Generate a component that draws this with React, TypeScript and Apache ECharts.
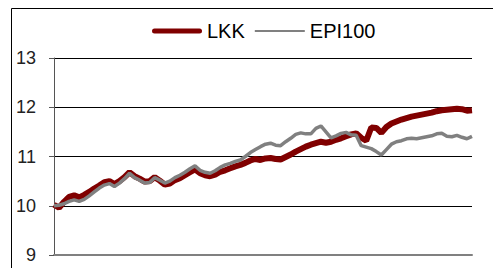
import React, { useEffect, useRef } from "react";
import * as echarts from "echarts";

const lkk: number[] = [
  10.02, 9.96, 10.08, 10.18, 10.21, 10.17, 10.22, 10.28, 10.35, 10.41,
  10.48, 10.5, 10.44, 10.5, 10.58, 10.68, 10.6, 10.55, 10.49, 10.5,
  10.58, 10.51, 10.43, 10.45, 10.52, 10.56, 10.62, 10.68, 10.74, 10.66,
  10.62, 10.6, 10.63, 10.69, 10.72, 10.76, 10.8, 10.83, 10.87, 10.92,
  10.95, 10.93, 10.96, 10.97, 10.95, 10.94, 10.99, 11.04, 11.1, 11.15,
  11.2, 11.24, 11.27, 11.3, 11.28, 11.3, 11.34, 11.37, 11.41, 11.45,
  11.47, 11.38, 11.32, 11.59, 11.58, 11.48, 11.6, 11.67, 11.71, 11.75,
  11.78, 11.81, 11.83, 11.85, 11.87, 11.89, 11.92, 11.94, 11.95, 11.96,
  11.97, 11.96, 11.93, 11.94,
];

const epi100: number[] = [
  10.0, 10.01, 10.04, 10.09, 10.12, 10.09, 10.13, 10.2, 10.28, 10.36,
  10.42, 10.45, 10.39, 10.46, 10.55, 10.66, 10.57, 10.52, 10.46, 10.47,
  10.57, 10.52, 10.46, 10.5, 10.57, 10.62, 10.68, 10.75, 10.81, 10.72,
  10.68, 10.66, 10.71, 10.78, 10.83, 10.86, 10.9, 10.93, 11.0, 11.08,
  11.14, 11.2, 11.25, 11.27, 11.23, 11.22, 11.3, 11.37, 11.45, 11.48,
  11.46, 11.46, 11.57, 11.62, 11.5, 11.38, 11.42, 11.47, 11.49, 11.44,
  11.43, 11.22, 11.19, 11.16, 11.1, 11.03, 11.14, 11.25, 11.3, 11.32,
  11.36, 11.37, 11.36, 11.38, 11.4, 11.42, 11.46, 11.47, 11.41, 11.4,
  11.43, 11.39, 11.36, 11.41,
];

const categories: string[] = lkk.map((_, i) => String(i + 1));
const seriesNames: string[] = ["LKK", "EPI100"];
const yTicks = { min: 9, max: 13, interval: 1 };

export default function App() {
  const ref = useRef<HTMLDivElement>(null);
  useEffect(() => {
    if (!ref.current) return;
    const chart = echarts.init(ref.current, undefined, { renderer: "svg" });
    chart.setOption({
      animation: false,
      backgroundColor: "#ffffff",
      textStyle: { fontFamily: "Liberation Sans, Arial, sans-serif" },
      graphic: [
        {
          type: "polyline",
          shape: { points: [[11.5, 268], [11.5, 8.5], [493, 8.5]] },
          style: { fill: null, stroke: "#000", lineWidth: 1 },
          z: 0,
        },
      ],
      legend: {
        left: 152,
        top: 21,
        padding: 0,
        itemGap: 10,
        itemWidth: 50,
        itemHeight: 20,
        symbolKeepAspect: true,
        textStyle: { fontSize: 20, color: "#000" },
        data: [
          { name: seriesNames[0], icon: "path://M2.5,0H47.5A2.5,2.5,0,0,1,47.5,5H2.5A2.5,2.5,0,0,1,2.5,0Z", itemStyle: { color: "#800000" } },
          { name: seriesNames[1], icon: "path://M0,0H50V2H0Z", itemStyle: { color: "#808080" } },
        ],
      },
      grid: { left: 54, right: 21, top: 58, bottom: 13, containLabel: false },
      xAxis: {
        type: "category",
        data: categories,
        boundaryGap: false,
        axisLine: { show: true, lineStyle: { color: "#808080", width: 2 } },
        axisTick: { show: false },
        axisLabel: { show: false },
        splitLine: { show: false },
      },
      yAxis: {
        type: "value",
        min: yTicks.min,
        max: yTicks.max,
        interval: yTicks.interval,
        axisLine: { show: true, lineStyle: { color: "#555", width: 1 } },
        axisTick: { show: true, length: 5, lineStyle: { color: "#555" } },
        axisLabel: { margin: 18, fontSize: 18, color: "#222" },
        splitLine: { show: true, lineStyle: { color: "#000", width: 1 } },
      },
      series: [
        {
          name: seriesNames[0],
          type: "line",
          data: lkk,
          symbol: "none",
          lineStyle: { color: "#800000", width: 6 },
          itemStyle: { color: "#800000" },
        },
        {
          name: seriesNames[1],
          type: "line",
          data: epi100,
          symbol: "none",
          lineStyle: { color: "#808080", width: 3.5 },
          itemStyle: { color: "#808080" },
        },
      ],
    });
    return () => chart.dispose();
  }, []);
  return (
    <div
      ref={ref}
      style={{ position: "fixed", left: 0, top: 0, width: 493, height: 268 }}
    />
  );
}
